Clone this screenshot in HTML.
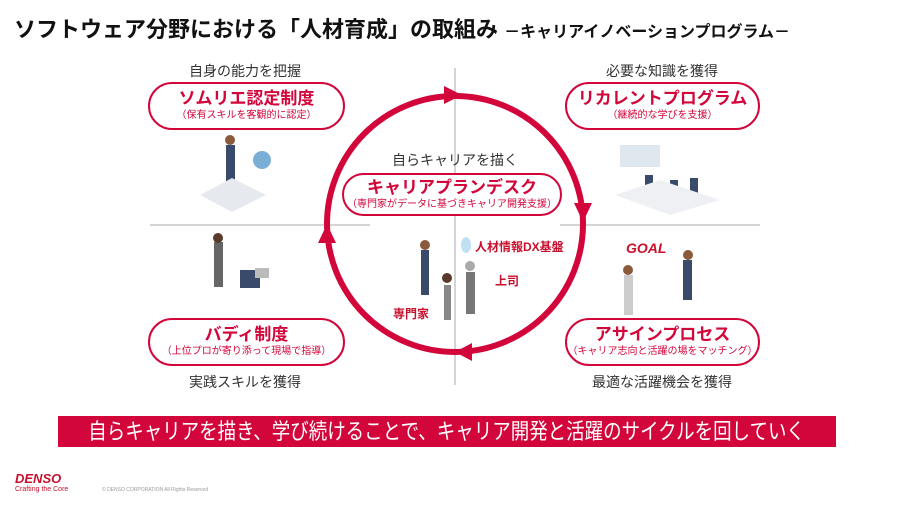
<!DOCTYPE html>
<html><head><meta charset="utf-8"><style>
body{margin:0;width:900px;height:506px;background:#fff;position:relative;overflow:hidden;font-family:"Liberation Sans","Noto Sans CJK JP",sans-serif;}
.a{position:absolute;white-space:nowrap;}
.pill{position:absolute;border:2.5px solid #d2063a;border-radius:26px;background:#fff;text-align:center;box-sizing:border-box;}
.pill .t{color:#d2063a;font-weight:bold;font-size:17px;line-height:20px;margin-top:5px;}
.pill .s{color:#d2063a;font-size:10px;line-height:13px;}
.lab{position:absolute;font-size:14px;color:#333;text-align:center;width:200px;}
</style></head><body>
<div class="a" style="left:14px;top:12px;font-size:22px;font-weight:bold;color:#111;">ソフトウェア分野における「人材育成」の取組み <span style="font-size:16px;font-weight:bold;">－キャリアイノベーションプログラム－</span></div>

<svg class="a" style="left:0;top:0" width="900" height="506">
<line x1="455" y1="68" x2="455" y2="385" stroke="#aaa" stroke-width="1"/>
<line x1="150" y1="225" x2="370" y2="225" stroke="#aaa" stroke-width="1"/>
<line x1="560" y1="225" x2="760" y2="225" stroke="#aaa" stroke-width="1"/>
<circle cx="455" cy="224" r="128" fill="none" stroke="#d2063a" stroke-width="6"/>
<polygon points="462,95 444,86 444,104" fill="#d2063a"/>
<polygon points="583,222 574,203 592,203" fill="#d2063a"/>
<polygon points="455,352 472,343 472,361" fill="#d2063a"/>
<polygon points="327,224 318,243 336,243" fill="#d2063a"/>
<g fill="#3a4a6a"><rect x="226" y="145" width="9" height="45"/><circle cx="230" cy="140" r="5" fill="#8a5a3a"/></g>
<polygon points="200,195 232,178 266,195 232,212" fill="#e6eaef"/>
<circle cx="262" cy="160" r="9" fill="#7ab0d8"/>
<g fill="#666"><rect x="214" y="242" width="9" height="45"/><circle cx="218" cy="238" r="5" fill="#5a3a2a"/></g>
<rect x="240" y="270" width="20" height="18" fill="#3a4a6a"/><rect x="255" y="268" width="14" height="10" fill="#bbb"/>
<rect x="620" y="145" width="40" height="22" fill="#dfe7ef"/>
<g fill="#3a4a6a"><rect x="645" y="175" width="8" height="18"/><rect x="670" y="180" width="8" height="18"/><rect x="690" y="178" width="8" height="18"/></g>
<polygon points="615,195 660,180 720,200 670,215" fill="#eef0f3"/>
<text x="626" y="253" font-size="14" font-weight="bold" fill="#c8102e" font-style="italic">GOAL</text>
<g fill="#3a4a6a"><rect x="683" y="260" width="9" height="40"/><circle cx="688" cy="255" r="5" fill="#8a5a3a"/></g>
<g fill="#ccc"><rect x="624" y="275" width="9" height="40"/><circle cx="628" cy="270" r="5" fill="#8a5a3a"/></g>
<g fill="#3a4a6a"><rect x="421" y="250" width="8" height="45"/><circle cx="425" cy="245" r="5" fill="#8a5a3a"/></g>
<g fill="#777"><rect x="466" y="272" width="9" height="42"/><circle cx="470" cy="266" r="5" fill="#aaa"/></g>
<g fill="#888"><rect x="444" y="285" width="7" height="35"/><circle cx="447" cy="278" r="5" fill="#5a3a2a"/></g>
<ellipse cx="466" cy="245" rx="5" ry="8" fill="#bfe0f0"/>
</svg>

<div class="lab" style="left:145px;top:61px;">自身の能力を把握</div>
<div class="lab" style="left:562px;top:61px;">必要な知識を獲得</div>
<div class="lab" style="left:355px;top:150px;width:200px;">自らキャリアを描く</div>
<div class="lab" style="left:145px;top:372px;">実践スキルを獲得</div>
<div class="lab" style="left:562px;top:372px;">最適な活躍機会を獲得</div>

<div class="pill" style="left:148px;top:82px;width:197px;height:48px;"><div class="t">ソムリエ認定制度</div><div class="s">（保有スキルを客観的に認定）</div></div>
<div class="pill" style="left:565px;top:82px;width:195px;height:48px;"><div class="t">リカレントプログラム</div><div class="s">（継続的な学びを支援）</div></div>
<div class="pill" style="left:342px;top:173px;width:220px;height:43px;"><div class="t" style="margin-top:3px">キャリアプランデスク</div><div class="s">（専門家がデータに基づきキャリア開発支援）</div></div>
<div class="pill" style="left:148px;top:318px;width:197px;height:48px;"><div class="t">バディ制度</div><div class="s">（上位プロが寄り添って現場で指導）</div></div>
<div class="pill" style="left:565px;top:318px;width:195px;height:48px;"><div class="t">アサインプロセス</div><div class="s">（キャリア志向と活躍の場をマッチング）</div></div>

<div class="a" style="left:475px;top:238px;font-size:12px;font-weight:bold;color:#c8102e;">人材情報DX基盤</div>
<div class="a" style="left:495px;top:272px;font-size:12px;font-weight:bold;color:#c8102e;">上司</div>
<div class="a" style="left:393px;top:305px;font-size:12px;font-weight:bold;color:#c8102e;">専門家</div>

<div class="a" style="left:58px;top:416px;width:778px;height:31px;background:#d2063a;overflow:hidden;text-align:center;"><span style="display:inline-block;color:#fff;font-size:22px;line-height:31px;transform:scaleX(0.84);transform-origin:center;margin:0 -70px;">自らキャリアを描き、学び続けることで、キャリア開発と活躍のサイクルを回していく</span></div>

<div class="a" style="left:15px;top:471px;font-size:13px;font-weight:bold;font-style:italic;color:#c8102e;">DENSO</div>
<div class="a" style="left:15px;top:486px;font-size:7px;color:#c8102e;">Crafting the Core</div>
<div class="a" style="left:102px;top:487px;font-size:5px;color:#999;">© DENSO CORPORATION All Rights Reserved</div>
</body></html>
